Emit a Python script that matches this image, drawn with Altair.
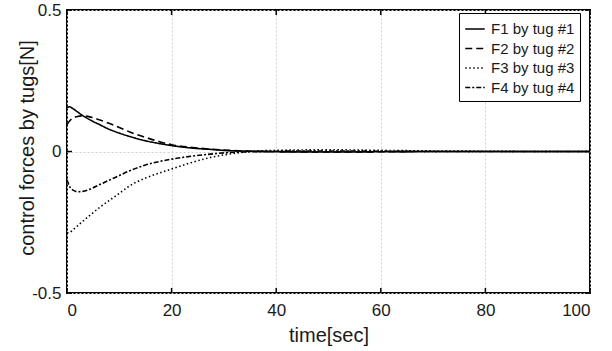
import altair as alt
import pandas as pd

# ---- data ----
time = [0, 0.5, 1, 2, 3, 4, 5, 6, 8, 10, 12, 15, 18, 20, 24, 27, 30, 35, 40, 50, 60, 70, 80, 90, 100]
f1 = [0.155, 0.158, 0.153, 0.140, 0.127, 0.116, 0.106, 0.097, 0.079, 0.065, 0.053, 0.038, 0.027, 0.021,
      0.012, 0.008, 0.004, 0.001, -0.001, -0.002, -0.001, 0.0, 0.0, 0.0, 0.0]
f2 = [0.095, 0.108, 0.116, 0.124, 0.126, 0.124, 0.119, 0.113, 0.100, 0.085, 0.069, 0.050, 0.033, 0.024,
      0.014, 0.009, 0.005, 0.001, 0.0, -0.002, -0.001, 0.0, 0.0, 0.0, 0.0]
f3 = [-0.288, -0.286, -0.279, -0.263, -0.247, -0.231, -0.216, -0.201, -0.174, -0.148, -0.121, -0.094, -0.074,
      -0.062, -0.038, -0.023, -0.012, 0.0, 0.004, 0.006, 0.004, 0.002, 0.001, 0.0, 0.0]
f4 = [-0.100, -0.124, -0.135, -0.142, -0.141, -0.136, -0.128, -0.119, -0.102, -0.085, -0.068, -0.048, -0.034,
      -0.027, -0.016, -0.010, -0.005, -0.001, 0.001, 0.002, 0.001, 0.0, 0.0, 0.0, 0.0]
series = ["F1 by tug #1", "F2 by tug #2", "F3 by tug #3", "F4 by tug #4"]
x_ticks = [0, 20, 40, 60, 80, 100]
y_ticks = [-0.5, 0, 0.5]

rows = []
for name, vals in zip(series, [f1, f2, f3, f4]):
    for t, v in zip(time, vals):
        rows.append({"time": t, "force": v, "series": name})
df = pd.DataFrame(rows)
xt = pd.DataFrame({"time": x_ticks})
yt = pd.DataFrame({"force": y_ticks})

W, H = 523, 283
FONT = "Liberation Sans"
TXT = "#1a1a1a"

x_scale = alt.Scale(domain=[0, 100], nice=False, zero=False)
y_scale = alt.Scale(domain=[-0.5, 0.5], nice=False, zero=False)

x_axis = alt.Axis(values=x_ticks, title="time[sec]", format="d", labelPadding=9, titlePadding=7,
                  grid=True, gridDash=[2, 2], gridColor="#cfcfcf", gridWidth=1,
                  ticks=False, domain=False)
y_axis = alt.Axis(values=y_ticks, title="control forces by tugs[N]", labelPadding=6,
                  labelExpr="datum.value < 0 ? '-' + format(-datum.value, '.1f') : (datum.value == 0 ? '0' : format(datum.value, '.1f'))",
                  titleX=-30, titleY=H / 2 - 4, titleAngle=-90, titleBaseline="bottom",
                  grid=True, gridDash=[2, 2], gridColor="#cfcfcf", gridWidth=1,
                  ticks=False, domain=False)

X = alt.X("time:Q", scale=x_scale, axis=x_axis)
Y = alt.Y("force:Q", scale=y_scale, axis=y_axis)

lines = alt.Chart(df).mark_line(strokeWidth=1.6, color="black", interpolate="monotone").encode(
    x=X,
    y=Y,
    strokeDash=alt.StrokeDash(
        "series:N",
        scale=alt.Scale(domain=series, range=[[1, 0], [7, 4], [1.5, 2.5], [5, 2, 2, 2]]),
        legend=alt.Legend(title=None, orient="none", legendX=392, legendY=3,
                          strokeColor="black", fillColor="white", padding=5,
                          labelFont=FONT, labelFontSize=15, labelColor=TXT, labelLimit=300,
                          labelOffset=5, symbolType="stroke", symbolSize=380,
                          symbolStrokeWidth=1.6, symbolStrokeColor="black", rowPadding=0.5),
    ),
)

tick_style = dict(color="black", strokeWidth=1.5)
xt_bottom = alt.Chart(xt).mark_rule(**tick_style).encode(x=X, y=alt.value(H), y2=alt.value(H - 5))
xt_top = alt.Chart(xt).mark_rule(**tick_style).encode(x=X, y=alt.value(0), y2=alt.value(5))
yt_left = alt.Chart(yt).mark_rule(**tick_style).encode(y=Y, x=alt.value(0), x2=alt.value(5))
yt_right = alt.Chart(yt).mark_rule(**tick_style).encode(y=Y, x=alt.value(W), x2=alt.value(W - 5))

chart = alt.layer(lines, xt_bottom, xt_top, yt_left, yt_right).properties(
    width=W, height=H,
    autosize=alt.AutoSizeParams(type="none"),
    padding={"left": 67, "top": 10, "right": 22, "bottom": 58},
    background="white",
).configure_view(
    stroke="black", strokeWidth=2
).configure_axis(
    labelFont=FONT, labelFontSize=17, labelColor=TXT,
    titleFont=FONT, titleFontSize=20, titleColor=TXT, titleFontWeight="normal",
)

chart.save("out.html", embed_options={"renderer": "svg", "actions": False})
